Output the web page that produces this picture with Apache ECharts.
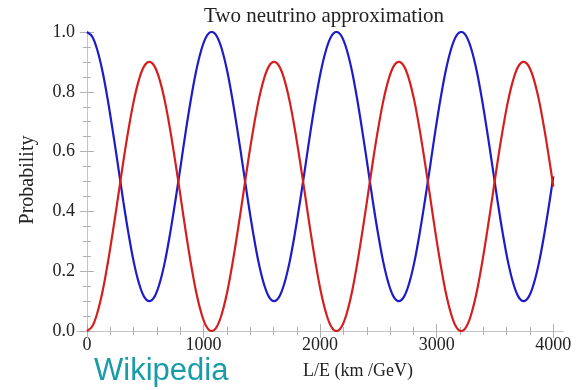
<!DOCTYPE html>
<html>
<head>
<meta charset="utf-8">
<script src="https://cdn.jsdelivr.net/npm/echarts@6/dist/echarts.min.js"></script>
<style>html,body{margin:0;padding:0;background:#fff;}#c{width:582px;height:390px;}</style>
</head>
<body>
<div id="c"></div>
<script>
const titleText = "Two neutrino approximation";
const xName = "L/E (km /GeV)";
const yName = "Probability";
const watermark = "Wikipedia";
const xMajorTicks = [0, 1000, 2000, 3000, 4000];
const xMinorTicks = [200,400,600,800,1200,1400,1600,1800,2200,2400,2600,2800,3200,3400,3600,3800];
const yMajorTicks = [0, 0.2, 0.4, 0.6, 0.8, 1.0];
const yMinorTicks = [0.05,0.1,0.15,0.25,0.3,0.35,0.45,0.5,0.55,0.65,0.7,0.75,0.85,0.9,0.95];
const xTickLabels = ["0", "1000", "2000", "3000", "4000"];
const yTickLabels = ["0.0", "0.2", "0.4", "0.6", "0.8", "1.0"];
const LE = [0,45,89,134,178,223,268,312,357,401,446,490,535,580,624,669,713,758,803,847,892,936,981,1025,
  1070,1115,1159,1204,1248,1293,1338,1382,1427,1471,1516,1560,1605,1650,1694,1739,1783,1828,1873,1917,1962,2006,2051,2095,
  2140,2185,2229,2274,2318,2363,2408,2452,2497,2541,2586,2630,2675,2720,2764,2809,2853,2898,2943,2987,3032,3076,3121,3165,
  3210,3255,3299,3344,3388,3433,3478,3522,3567,3611,3656,3700,3745,3790,3834,3879,3923,3968,4000];
const survival = [1,0.985,0.94,0.868,0.775,0.666,0.55,0.434,0.325,0.232,0.16,0.115,0.1,0.115,0.16,0.232,0.325,0.434,0.55,0.666,0.775,0.868,0.94,0.985,
  1,0.985,0.94,0.868,0.775,0.666,0.55,0.434,0.325,0.232,0.16,0.115,0.1,0.115,0.16,0.232,0.325,0.434,0.55,0.666,0.775,0.868,0.94,0.985,
  1,0.985,0.94,0.868,0.775,0.666,0.55,0.434,0.325,0.232,0.16,0.115,0.1,0.115,0.16,0.232,0.325,0.434,0.55,0.666,0.775,0.868,0.94,0.985,
  1,0.985,0.94,0.868,0.775,0.666,0.55,0.434,0.325,0.232,0.16,0.115,0.1,0.115,0.16,0.232,0.325,0.434,0.517];
const oscillation = [0,0.015,0.06,0.132,0.225,0.334,0.45,0.566,0.675,0.768,0.84,0.885,0.9,0.885,0.84,0.768,0.675,0.566,0.45,0.334,0.225,0.132,0.06,0.015,
  0,0.015,0.06,0.132,0.225,0.334,0.45,0.566,0.675,0.768,0.84,0.885,0.9,0.885,0.84,0.768,0.675,0.566,0.45,0.334,0.225,0.132,0.06,0.015,
  0,0.015,0.06,0.132,0.225,0.334,0.45,0.566,0.675,0.768,0.84,0.885,0.9,0.885,0.84,0.768,0.675,0.566,0.45,0.334,0.225,0.132,0.06,0.015,
  0,0.015,0.06,0.132,0.225,0.334,0.45,0.566,0.675,0.768,0.84,0.885,0.9,0.885,0.84,0.768,0.675,0.566,0.483];

const serif = "Liberation Serif";
const frameColor = '#c4c4c4';
const tickColor = '#b0b0b0';
const textColor = '#222';
const XMIN = -85, XMAX = 4083;

function xAx(pos, vals, len, line) {
  return {
    type: 'value', position: pos, min: XMIN, max: XMAX,
    axisLine: {show: line, lineStyle: {color: frameColor, width: 1}},
    axisTick: {show: true, inside: true, length: len, customValues: vals, lineStyle: {color: tickColor}},
    axisLabel: {show: false},
    splitLine: {show: false}
  };
}
function yAx(pos, vals, len, line) {
  return {
    type: 'value', position: pos, min: 0, max: 1,
    axisLine: {show: line, lineStyle: {color: frameColor, width: 1}},
    axisTick: {show: true, inside: true, length: len, customValues: vals, lineStyle: {color: tickColor}},
    axisLabel: {show: false},
    splitLine: {show: false}
  };
}

const chart = echarts.init(document.getElementById('c'), null, {renderer: 'canvas'});
chart.setOption({
  animation: false,
  backgroundColor: '#fff',
  textStyle: {fontFamily: serif},
  grid: {left: 77, right: 19, top: 32, bottom: 59, containLabel: false},
  title: {text: titleText, left: 319, top: 1, textAlign: 'center',
    textStyle: {fontFamily: serif, fontSize: 21, fontWeight: 'normal', color: textColor}},
  xAxis: [
    xAx('bottom', xMajorTicks, 7, true),
    xAx('bottom', xMinorTicks, 4, false),
    xAx('top', xMajorTicks, 7, true),
    xAx('top', xMinorTicks, 4, false)
  ],
  yAxis: [
    yAx('left', yMajorTicks, 7, true),
    yAx('left', yMinorTicks, 4, false),
    yAx('right', yMajorTicks, 7, true),
    yAx('right', yMinorTicks, 4, false)
  ],
  series: [
    {type: 'line', xAxisIndex: 0, yAxisIndex: 0, data: LE.map((x, i) => [x, survival[i]]),
      showSymbol: false, smooth: 0.35, lineStyle: {color: '#1c1cc8', width: 2.2}},
    {type: 'line', xAxisIndex: 0, yAxisIndex: 0, data: LE.map((x, i) => [x, oscillation[i]]),
      showSymbol: false, smooth: 0.35, lineStyle: {color: '#d41f1f', width: 2.2}}
  ]
});

// Tick labels placed through the axes' own scales (serif font)
const bottomY = chart.convertToPixel({yAxisIndex: 0}, 0);
const leftX = chart.convertToPixel({xAxisIndex: 0}, XMIN);
const labelEls = [];
xMajorTicks.forEach((v, i) => {
  labelEls.push({type: 'text', x: chart.convertToPixel({xAxisIndex: 0}, v), y: bottomY + 5,
    style: {text: xTickLabels[i], fontFamily: serif, fontSize: 18, fill: textColor, align: 'center', verticalAlign: 'top'}});
});
yMajorTicks.forEach((v, i) => {
  labelEls.push({type: 'text', x: leftX - 2, y: chart.convertToPixel({yAxisIndex: 0}, v),
    style: {text: yTickLabels[i], fontFamily: serif, fontSize: 18, fill: textColor, align: 'right', verticalAlign: 'middle'}});
});

chart.setOption({
  graphic: labelEls.concat([
    {type: 'text', left: 303, top: 362, style: {text: xName, fontFamily: serif, fontSize: 18, fill: textColor}},
    {type: 'text', x: 28, y: 180, rotation: Math.PI / 2,
      style: {text: yName, fontFamily: serif, fontSize: 20, fill: textColor, align: 'center', verticalAlign: 'middle'}},
    {type: 'text', left: 94, top: 356, style: {text: watermark, fontFamily: "Liberation Sans", fontSize: 31, fill: '#1a9ca8'}}
  ])
});
</script>
</body>
</html>
